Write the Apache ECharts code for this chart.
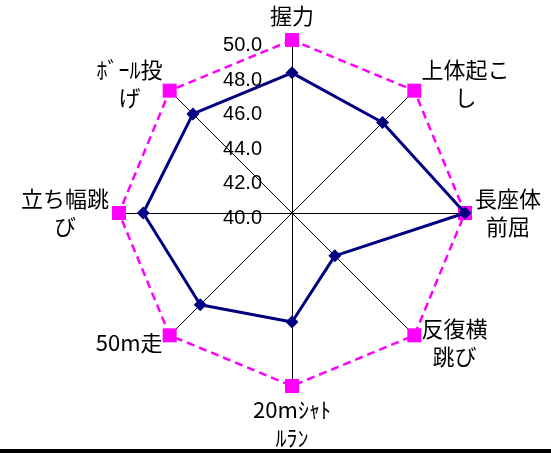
<!DOCTYPE html>
<html lang="ja">
<head>
	<meta charset="UTF-8">
	<title>体力テスト レーダー</title>
	<script src="https://cdn.jsdelivr.net/npm/echarts@6/dist/echarts.min.js"></script>
	<style>
		html, body { margin: 0; padding: 0; background: #fff; }
		#chart { width: 551px; height: 449px; border-bottom: 4px solid #000; }
	</style>
</head>
<body>
<div id="chart"></div>
<script>
	// 種目（時計回り、上から）
	var items = ['握力', '上体起こ\nし', '長座体\n前屈', '反復横\n跳び', '20mｼｬﾄ\nﾙﾗﾝ', '50m走', '立ち幅跳\nび', 'ﾎﾞｰﾙ投\nげ'];
	var axisMin = 40, axisMax = 50, axisStep = 2;
	// 基準（全部 50）
	var baseVals = [50, 50, 50, 50, 50, 50, 50, 50];
	// 本人の得点
	var myVals = [48.1, 47.4, 50.0, 43.5, 46.3, 47.5, 48.6, 48.1];

	var font = '"Noto Sans CJK JP", sans-serif';

	// echarts のレーダーは反時計回りなので、先頭以外を逆順に並べ替える
	var order = [0];
	for (var k = items.length - 1; k > 0; k--) order.push(k);
	function reorder(arr) { return order.map(function (i) { return arr[i]; }); }

	var indicator = reorder(items).map(function (n, i) {
		return {
			name: n, min: axisMin, max: axisMax,
			axisLabel: { show: i === 0 } // 目盛は一番上の軸だけ
		};
	});

	var chart = echarts.init(document.getElementById('chart'));
	chart.setOption({
		animation: false,
		radar: {
			center: [292, 213],
			radius: 173,
			shape: 'polygon',
			startAngle: 90,
			splitNumber: (axisMax - axisMin) / axisStep,
			indicator: indicator,
			axisName: {
				color: '#000',
				fontFamily: font,
				fontSize: 22,
				lineHeight: 28,
				formatter: function (name) {
					return name.split('\n').map(function (s) { return '{c|' + s + '}'; }).join('\n');
				},
				rich: {
					c: { align: 'center', fontFamily: font, fontSize: 22, lineHeight: 28, color: '#000' }
				}
			},
			nameGap: 10,
			axisLine: { lineStyle: { color: '#000', width: 1 } },
			axisTick: { show: false },
			axisLabel: {
				show: false,
				color: '#000',
				fontFamily: '"Liberation Sans", Arial, sans-serif',
				fontSize: 20,
				margin: 30,
				verticalAlign: 'top',
				lineHeight: 11,
				formatter: function (v) { return v.toFixed(1); }
			},
			splitLine: { show: false },
			splitArea: { show: false }
		},
		series: [{
			type: 'radar',
			z: 2,
			data: [{
				value: reorder(baseVals),
				symbol: 'rect',
				symbolSize: 14,
				itemStyle: { color: '#FF00FF' },
				lineStyle: { color: '#FF00FF', width: 2.5, type: [8, 5] }
			}]
		}, {
			type: 'radar',
			z: 3,
			data: [{
				value: reorder(myVals),
				symbol: 'diamond',
				symbolSize: 13,
				itemStyle: { color: '#000080' },
				lineStyle: { color: '#000080', width: 3 }
			}]
		}]
	});
</script>
</body>
</html>
